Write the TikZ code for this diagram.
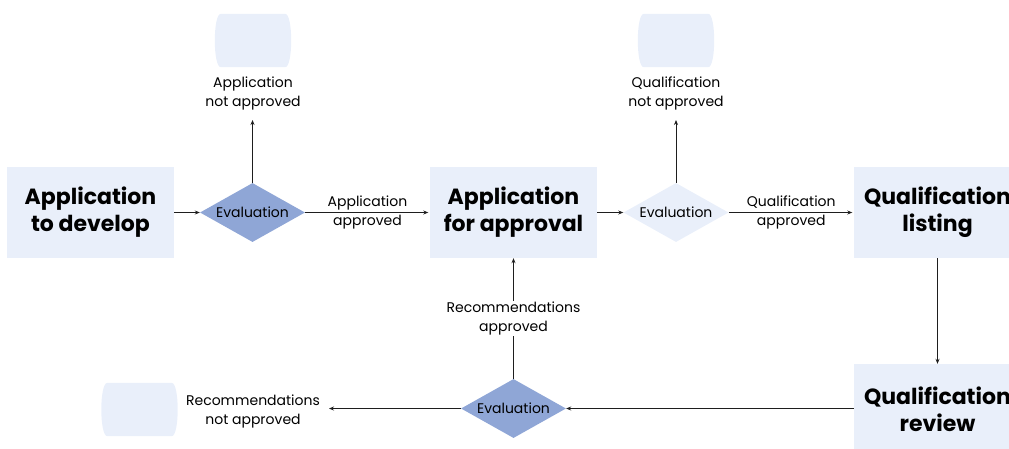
\documentclass[tikz,border=0pt]{standalone}
\usepackage{fontspec}
\setmainfont{Poppins}
\usetikzlibrary{arrows.meta,shapes.geometric}
\definecolor{lite}{RGB}{233,239,250}
\definecolor{mid}{RGB}{143,166,214}
\definecolor{ink}{RGB}{30,30,30}
\newcommand\barrelfill[1]{%
  \fill[lite] ([xshift=6pt]#1.north west) -- ([xshift=-6pt]#1.north east)
    .. controls ([xshift=2pt]#1.north east) and ([xshift=2pt]#1.south east) .. ([xshift=-6pt]#1.south east)
    -- ([xshift=6pt]#1.south west)
    .. controls ([xshift=-2pt]#1.south west) and ([xshift=-2pt]#1.north west) .. cycle;}
\begin{document}
\begin{tikzpicture}[x=1pt,y=-1pt,
  box/.style={fill=lite, minimum width=167pt, minimum height=91pt, inner sep=0pt, align=center,
    font=\fontsize{22}{27}\selectfont\bfseries},
  dia/.style={diamond, shape aspect=1.78, minimum width=105pt, minimum height=59pt, inner sep=0pt,
    font=\fontsize{14}{19}\selectfont},
  term/.style={minimum width=76pt, minimum height=53pt, inner sep=0pt},
  lbl/.style={align=center, font=\fontsize{14}{19}\selectfont, inner sep=0pt},
  arr/.style={draw=ink, line width=0.8pt, -{Stealth[length=5pt,width=4pt]}}]
\useasboundingbox (0,0) rectangle (1009,448);
\clip (0,0) rectangle (1009,448);
% boxes
\node[box] (b1) at (90.5,212.5) {Application\\to develop};
\node[box] (b2) at (513.5,212.5) {Application\\for approval};
\node[box] (b3) at (937.5,212.5) {Qualification\\listing};
\node[box] (b4) at (937.5,409.5) {Qualification\\review};
% diamonds
\node[dia, fill=mid] (d1) at (252.5,212.5) {Evaluation};
\node[dia, fill=lite] (d2) at (676,212.5) {Evaluation};
\node[dia, fill=mid] (d3) at (513.5,408.5) {Evaluation};
% terminals
\node[term] (t1) at (253,40.5) {};
\node[term] (t2) at (676,40.5) {};
\node[term] (t3) at (139.5,409.5) {};
\barrelfill{t1}
\barrelfill{t2}
\barrelfill{t3}
% labels
\node[lbl] (l1) at (253,93) {Application\\not approved};
\node[lbl] (l2) at (676,93) {Qualification\\not approved};
\node[lbl] (l3) at (253,411) {Recommendations\\not approved};
% free ends
\coordinate (c1) at (252.5,120);
\coordinate (c2) at (676,120);
\coordinate (c3) at (329,408.5);
% connectors
\draw[arr] (b1) -- (d1);
\draw[arr, shorten >=1.5pt] (d1) -- (b2) node[midway,lbl] {Application\\approved};
\draw[arr] (b2) -- (d2);
\draw[arr, shorten >=1.5pt] (d2) -- (b3) node[midway,lbl] {Qualification\\approved};
\draw[arr] (b3) -- (b4);
\draw[arr] (b4.west |- d3.east) -- (d3.east);
\draw[arr] (d3) -- (b2) node[midway,lbl,fill=white,inner sep=1pt] {Recommendations\\approved};
\draw[arr] (d3.west) -- (c3);
\draw[arr] (d1.north) -- (c1);
\draw[arr] (d2.north) -- (c2);
\end{tikzpicture}
\end{document}
